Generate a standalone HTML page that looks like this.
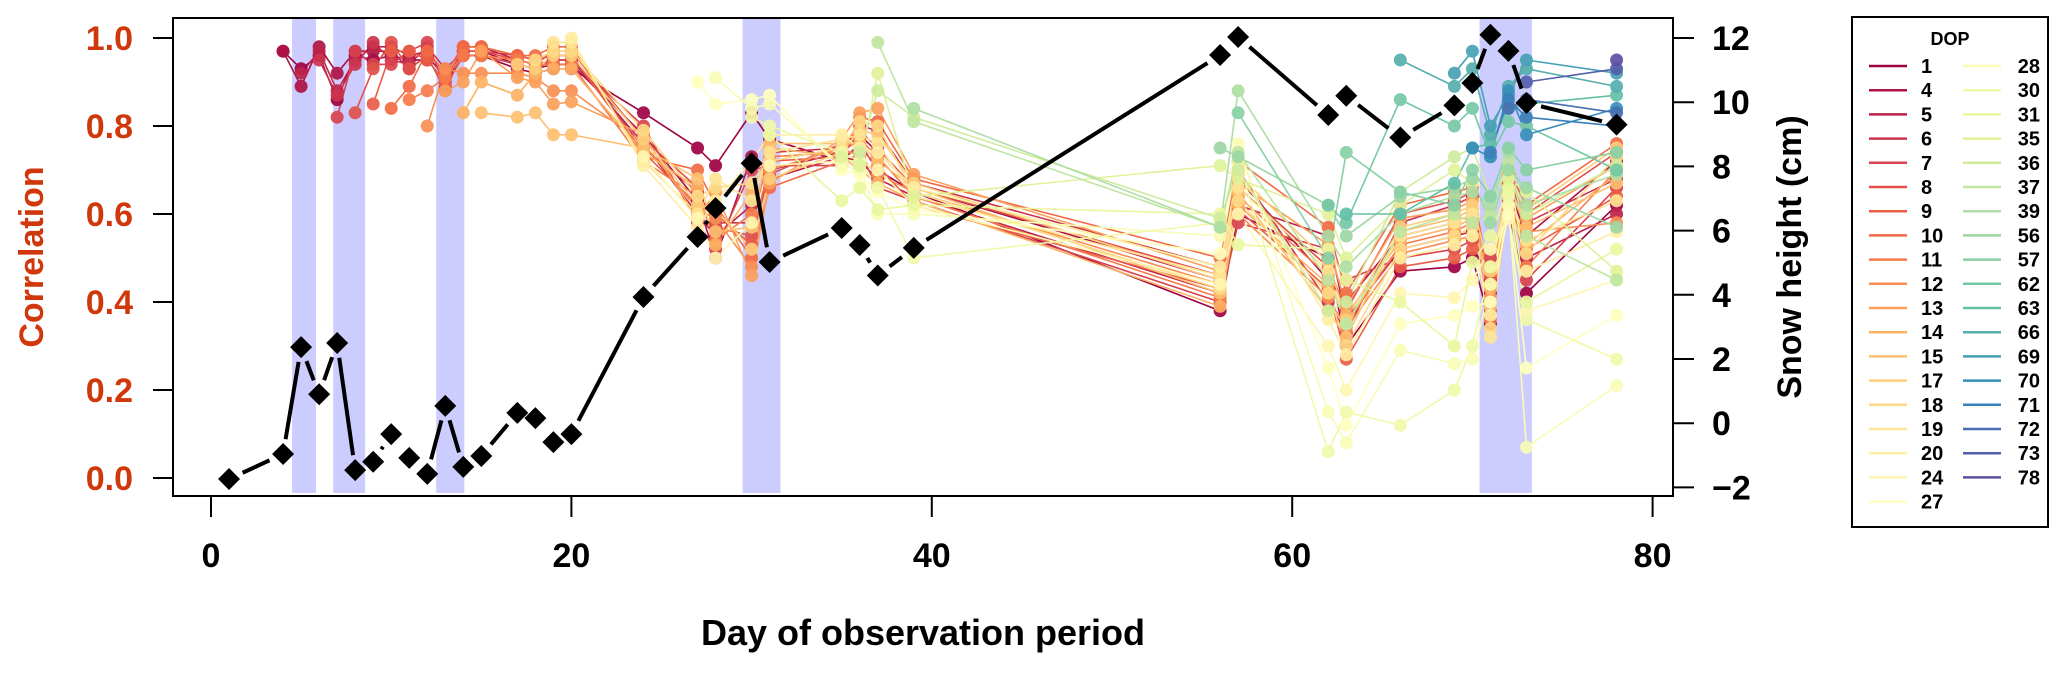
<!DOCTYPE html>
<html><head><meta charset="utf-8"><style>
html,body{margin:0;padding:0;background:#fff}
svg{display:block;font-family:"Liberation Sans",Arial,sans-serif;font-weight:bold}
</style></head><body>
<svg id="chart" width="2067" height="674" viewBox="0 0 2067 674" xmlns="http://www.w3.org/2000/svg">
<g id="bands"></g>
<g id="corr"></g>
<g id="snow"></g>
<rect x="173" y="18" width="1500" height="478" fill="none" stroke="#000" stroke-width="2"/>
<g id="axes"></g>
<text x="32" y="257" transform="rotate(-90 32 257)" text-anchor="middle" dominant-baseline="central" font-size="34" fill="#d0380c">Correlation</text>
<text x="1790" y="257" transform="rotate(-90 1790 257)" text-anchor="middle" dominant-baseline="central" font-size="34" fill="#000">Snow height (cm)</text>
<text x="923" y="645" text-anchor="middle" font-size="36" fill="#000">Day of observation period</text>
<g id="legend">
<rect x="1852" y="17" width="196" height="510" fill="#fff" stroke="#000" stroke-width="2"/>
<text x="1950" y="45" text-anchor="middle" font-size="18">DOP</text>
</g>
</svg>
<script>
const days = [4,5,6,7,8,9,10,11,12,13,14,15,17,18,19,20,24,27,28,30,31,35,36,37,39,56,57,62,63,66,69,70,71,72,73,78];
const dops = [1,4,5,6,7,8,9,10,11,12,13,14,15,17,18,19,20,24,27,28,30,31,35,36,37,39,56,57,62,63,66,69,70,71,72,73,78];
const corrByDay = [
[0.97,0.97],
[0.93,0.89,0.92],
[0.96,0.98,0.97,0.95],
[0.86,0.92,0.88,0.87,0.82],
[0.96,0.97,0.95,0.94,0.97,0.83],
[0.95,0.97,0.98,0.99,0.94,0.93,0.85],
[0.96,0.97,0.98,0.95,0.94,0.99,0.97,0.84],
[0.95,0.93,0.96,0.94,0.97,0.93,0.97,0.89,0.86],
[0.95,0.96,0.97,0.98,0.99,0.96,0.95,0.97,0.88,0.80],
[0.90,0.91,0.92,0.93,0.89,0.88,0.90,0.92,0.91,0.93,0.88],
[0.96,0.97,0.98,0.97,0.96,0.97,0.98,0.98,0.96,0.92,0.90,0.83],
[0.96,0.97,0.98,0.97,0.96,0.97,0.98,0.98,0.96,0.92,0.97,0.90,0.83],
[0.93,0.94,0.95,0.96,0.94,0.95,0.96,0.96,0.95,0.92,0.91,0.87,0.82,0.94],
[0.92,0.93,0.94,0.95,0.93,0.94,0.95,0.96,0.94,0.91,0.90,0.92,0.83,0.93,0.95],
[0.93,0.94,0.95,0.96,0.95,0.97,0.96,0.98,0.94,0.88,0.85,0.93,0.78,0.96,0.97,0.99],
[0.93,0.94,0.95,0.96,0.95,0.97,0.96,0.98,0.94,0.88,0.855,0.93,0.78,0.96,0.97,0.99,1.0],
[0.83,0.78,0.76,0.75,0.80,0.77,0.74,0.73,0.72,0.76,0.78,0.74,0.75,0.77,0.79,0.72,0.71,0.73],
[0.75,0.63,0.60,0.65,0.58,0.66,0.62,0.70,0.64,0.61,0.59,0.66,0.68,0.62,0.64,0.60,0.57,0.59,0.90],
[0.71,0.50,0.55,0.58,0.52,0.57,0.60,0.62,0.54,0.59,0.65,0.53,0.56,0.61,0.66,0.68,0.63,0.50,0.85,0.91],
[0.83,0.73,0.62,0.58,0.70,0.55,0.53,0.50,0.60,0.48,0.46,0.65,0.57,0.52,0.67,0.63,0.72,0.58,0.86,0.84,0.82],
[0.77,0.70,0.68,0.74,0.71,0.69,0.72,0.66,0.73,0.70,0.67,0.75,0.76,0.68,0.72,0.74,0.78,0.71,0.87,0.85,0.80,0.78],
[0.72,0.74,0.73,0.75,0.71,0.76,0.73,0.72,0.74,0.75,0.77,0.73,0.76,0.74,0.75,0.77,0.78,0.72,0.70,0.71,0.74,0.63,0.73],
[0.76,0.78,0.72,0.80,0.74,0.79,0.75,0.82,0.77,0.73,0.83,0.70,0.76,0.79,0.81,0.78,0.75,0.72,0.69,0.70,0.72,0.66,0.71,0.74],
[0.70,0.74,0.68,0.79,0.66,0.75,0.71,0.81,0.73,0.69,0.84,0.67,0.72,0.78,0.80,0.76,0.74,0.70,0.65,0.60,0.66,0.61,0.92,0.88,0.99],
[0.65,0.66,0.64,0.67,0.63,0.66,0.62,0.68,0.64,0.65,0.69,0.63,0.66,0.67,0.65,0.64,0.66,0.62,0.61,0.60,0.50,0.62,0.64,0.82,0.81,0.84],
[0.38,0.45,0.42,0.48,0.40,0.46,0.43,0.50,0.41,0.44,0.47,0.39,0.42,0.45,0.43,0.46,0.48,0.44,0.51,0.55,0.58,0.60,0.71,0.59,0.57,0.57,0.75],
[0.60,0.68,0.62,0.70,0.58,0.66,0.61,0.72,0.64,0.60,0.67,0.62,0.65,0.69,0.63,0.66,0.70,0.60,0.74,0.76,0.72,0.53,0.68,0.70,0.74,0.88,0.73,0.83],
[0.50,0.45,0.55,0.40,0.52,0.48,0.43,0.57,0.46,0.41,0.53,0.44,0.38,0.49,0.42,0.47,0.36,0.30,0.25,0.15,0.06,0.52,0.60,0.38,0.45,0.55,0.62,0.50,0.62],
[0.30,0.40,0.36,0.33,0.45,0.38,0.27,0.42,0.35,0.34,0.39,0.37,0.32,0.36,0.30,0.35,0.28,0.20,0.12,0.08,0.15,0.45,0.50,0.40,0.35,0.48,0.55,0.74,0.58,0.60],
[0.47,0.55,0.52,0.58,0.50,0.60,0.48,0.62,0.53,0.51,0.59,0.54,0.56,0.57,0.52,0.55,0.50,0.42,0.35,0.29,0.12,0.40,0.62,0.65,0.56,0.60,0.64,0.65,0.86,0.60,0.95],
[0.48,0.58,0.55,0.62,0.52,0.63,0.50,0.65,0.56,0.54,0.61,0.57,0.59,0.60,0.55,0.58,0.53,0.41,0.37,0.26,0.20,0.30,0.70,0.73,0.60,0.64,0.66,0.62,0.80,0.67,0.89,0.92],
[0.50,0.60,0.56,0.64,0.54,0.65,0.52,0.66,0.58,0.55,0.63,0.59,0.61,0.62,0.57,0.60,0.55,0.45,0.39,0.27,0.30,0.49,0.67,0.75,0.58,0.65,0.68,0.70,0.84,0.75,0.93,0.97,0.75],
[0.35,0.42,0.45,0.40,0.50,0.38,0.46,0.44,0.36,0.48,0.41,0.43,0.39,0.47,0.34,0.32,0.37,0.52,0.40,0.44,0.48,0.55,0.59,0.64,0.60,0.62,0.58,0.64,0.73,0.76,0.78,0.80,0.73,0.74],
[0.62,0.66,0.64,0.68,0.60,0.67,0.63,0.70,0.65,0.61,0.69,0.64,0.66,0.68,0.62,0.65,0.70,0.59,0.60,0.62,0.64,0.66,0.68,0.70,0.72,0.74,0.70,0.75,0.81,0.84,0.89,0.87,0.88,0.86,0.84],
[0.42,0.55,0.50,0.58,0.45,0.60,0.52,0.62,0.48,0.56,0.59,0.53,0.57,0.61,0.51,0.54,0.47,0.38,0.25,0.07,0.36,0.40,0.65,0.60,0.55,0.62,0.66,0.70,0.80,0.85,0.93,0.95,0.78,0.82,0.86,0.90],
[0.62,0.72,0.60,0.68,0.66,0.74,0.64,0.76,0.70,0.58,0.71,0.69,0.67,0.75,0.73,0.63,0.56,0.45,0.37,0.21,0.27,0.52,0.47,0.71,0.45,0.69,0.57,0.74,0.70,0.87,0.89,0.92,0.84,0.80,0.83,0.93,0.95]
];
const snowDays = [1,4,5,6,7,8,9,10,11,12,13,14,15,17,18,19,20,24,27,28,30,31,35,36,37,39,56,57,62,63,66,69,70,71,72,73,78];
const snowHeight = [-1.74,-0.96,2.37,0.9,2.5,-1.46,-1.2,-0.34,-1.08,-1.58,0.54,-1.36,-1.02,0.32,0.16,-0.59,-0.34,3.93,5.8,6.7,8.1,5.02,6.08,5.55,4.6,5.46,11.47,12.03,9.6,10.2,8.9,9.9,10.6,12.1,11.6,9.98,9.3];
const bandStart = [4.5,6.78,12.5,29.5,70.4];
const bandEnd = [5.83,8.55,14.06,31.6,73.3];
const xTicks = [0,20,40,60,80];
const corrTicks = [0.0,0.2,0.4,0.6,0.8,1.0];
const snowTicks = [-2,0,2,4,6,8,10,12];

const NS = "http://www.w3.org/2000/svg";
const X = d => 211 + d * 18.02;
const YC = c => 478 - c * 440;
const YS = s => 38 + (12 - s) * 32.1;
function mk(tag, attrs, parent){const e=document.createElementNS(NS,tag);for(const k in attrs)e.setAttribute(k,attrs[k]);parent.appendChild(e);return e;}
const spectral = ["#9e0142","#d53e4f","#f46d43","#fdae61","#fee08b","#ffffbf","#e6f598","#abdda4","#66c2a5","#3288bd","#5e4fa2"];
function hex(h){return [1,3,5].map(i=>parseInt(h.substr(i,2),16));}
function colorAt(t){const p=t*(spectral.length-1);const i=Math.min(Math.floor(p),spectral.length-2);const f=p-i;const a=hex(spectral[i]),b=hex(spectral[i+1]);return "rgb("+a.map((v,k)=>Math.round(v+(b[k]-v)*f)).join(",")+")";}
const colors = dops.map((d,i)=>colorAt(i/(dops.length-1)));

const bands=document.getElementById('bands');
bandStart.forEach((s,i)=>{
  const r=mk('rect',{x:X(s),y:19,width:X(bandEnd[i])-X(s),height:474,fill:'#ccccff'},bands);
  
  
});

const corr=document.getElementById('corr');
const lineG=mk('g',{},corr); const dotG=mk('g',{},corr);
dops.forEach((dop,j)=>{
  let prev=null;
  days.forEach((day,i)=>{
    const v=corrByDay[i][j];
    if(v===undefined||v===null){return;}
    if(prev){
      const x1=X(prev[0]),y1=YC(prev[1]),x2=X(day),y2=YC(v);
      const L=Math.hypot(x2-x1,y2-y1),g=6;
      if(L>2*g+1){
        const ux=(x2-x1)/L,uy=(y2-y1)/L;
        const l=mk('line',{x1:x1+ux*g,y1:y1+uy*g,x2:x2-ux*g,y2:y2-uy*g,stroke:colors[j],'stroke-width':1.6},lineG);
        
        
      }
    }
    prev=[day,v];
  });
});
dops.forEach((dop,j)=>{
  days.forEach((day,i)=>{
    const v=corrByDay[i][j];
    if(v===undefined||v===null)return;
    const c=mk('circle',{cx:X(day),cy:YC(v),r:6.5,fill:colors[j],'fill-opacity':0.92},dotG);
    
    
  });
});

const snow=document.getElementById('snow');
for(let i=1;i<snowDays.length;i++){
  const x1=X(snowDays[i-1]),y1=YS(snowHeight[i-1]),x2=X(snowDays[i]),y2=YS(snowHeight[i]);
  const L=Math.hypot(x2-x1,y2-y1),g=15;
  if(L<=2*g+2)continue;
  const ux=(x2-x1)/L,uy=(y2-y1)/L;
  const l=mk('line',{x1:x1+ux*g,y1:y1+uy*g,x2:x2-ux*g,y2:y2-uy*g,stroke:'#000','stroke-width':4},snow);
  
  
}
snowDays.forEach((d,i)=>{
  const x=X(d),y=YS(snowHeight[i]),h=11;
  const p=mk('polygon',{points:`${x},${y-h} ${x+h},${y} ${x},${y+h} ${x-h},${y}`,fill:'#000'},snow);
  
  
});

const axes=document.getElementById('axes');
xTicks.forEach(t=>{
  const l=mk('line',{x1:X(t),y1:496,x2:X(t),y2:517,stroke:'#000','stroke-width':2},axes);
  
  
  const tx=mk('text',{x:X(t),y:567,'text-anchor':'middle','font-size':34},axes);
  tx.textContent=t;
  
  
});
corrTicks.forEach(t=>{
  const l=mk('line',{x1:153,y1:YC(t),x2:173,y2:YC(t),stroke:'#000','stroke-width':2},axes);
  
  
  const tx=mk('text',{x:133,y:YC(t)+12,'text-anchor':'end','font-size':34,fill:'#d0380c'},axes);
  tx.textContent=t.toFixed(1);
  
  
});
snowTicks.forEach(t=>{
  const l=mk('line',{x1:1673,y1:YS(t),x2:1694,y2:YS(t),stroke:'#000','stroke-width':2},axes);
  
  
  const tx=mk('text',{x:1712,y:YS(t)+12,'text-anchor':'start','font-size':34},axes);
  tx.textContent=t<0?'\u2212'+Math.abs(t):t;
  
  
});

const legend=document.getElementById('legend');
dops.forEach((dop,j)=>{
  const col=j<19?0:1, row=j<19?j:j-19;
  const y=66+row*24.2;
  const lx=col===0?1869:1963;
  const l=mk('line',{x1:lx,y1:y,x2:lx+38,y2:y,stroke:colors[j],'stroke-width':2.5},legend);
  
  
  const tx=mk('text',{x:col===0?1921:2040,y:y+7,'text-anchor':col===0?'start':'end','font-size':20},legend);
  tx.textContent=dop;
  
  
});
</script>
</body></html>
